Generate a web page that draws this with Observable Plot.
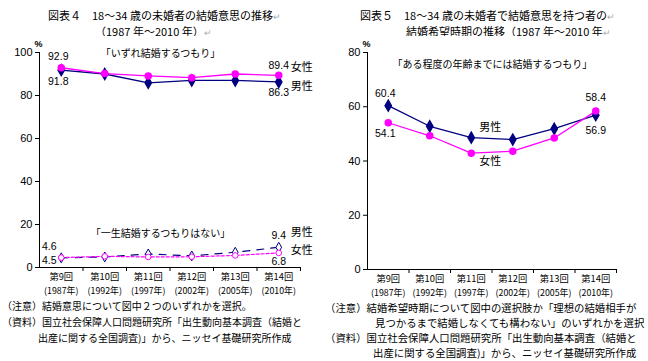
<!DOCTYPE html>
<html><head><meta charset="utf-8">
<script src="https://cdn.jsdelivr.net/npm/d3@7"></script>
<script src="https://cdn.jsdelivr.net/npm/@observablehq/plot@0.6"></script>
<style>
body{margin:0;background:#fff;width:648px;height:361px;position:relative;overflow:hidden;font-family:"Noto Sans CJK JP",sans-serif;color:#000}
.t{position:absolute;font-size:11px;white-space:nowrap;line-height:1}
.rt{color:#aaa;font-size:9px}
.n{position:absolute;white-space:nowrap;line-height:16px;font-size:10px}
#c1{position:absolute;left:0;top:36px}
#c2{position:absolute;left:330px;top:36px}
</style></head><body>
<div class="t" style="left:48px;top:10px">図表４　18～34 歳の未婚者の結婚意思の推移<span class="rt">↵</span></div>
<div class="t" style="left:95px;top:26px">（1987 年～2010 年）<span class="rt">↵</span></div>
<div class="t" style="left:360px;top:10px">図表５　18～34 歳の未婚者で結婚意思を持つ者の<span class="rt">↵</span></div>
<div class="t" style="left:406px;top:26px">結婚希望時期の推移（1987 年～2010 年<span class="rt">↵</span></div>
<div id="c1"></div>
<div id="c2"></div>
<div class="n" style="left:2px;top:298px">
<div>（注意）結婚意思について図中２つのいずれかを選択。</div>
<div>（資料）国立社会保障人口問題研究所「出生動向基本調査（結婚と</div>
<div style="padding-left:36px">出産に関する全国調査)」から、ニッセイ基礎研究所作成</div>
</div>
<div class="n" style="left:325px;top:300px;font-size:10.4px;line-height:15px">
<div>（注意）結婚希望時期について図中の選択肢か「理想の結婚相手が</div>
<div style="padding-left:50px">見つかるまで結婚しなくても構わない」のいずれかを選択</div>
<div>（資料）国立社会保障人口問題研究所「出生動向基本調査（結婚と</div>
<div style="padding-left:48px">出産に関する全国調査)」から、ニッセイ基礎研究所作成</div>
</div>
<script>
const rounds = ["第9回","第10回","第11回","第12回","第13回","第14回"];
const years = ["(1987年)","(1992年)","(1997年)","(2002年)","(2005年)","(2010年)"];
const willMale = [91.8, 90.0, 85.9, 87.0, 87.0, 86.3];
const willFemale = [92.9, 90.2, 89.1, 88.3, 90.0, 89.4];
const neverMale = [4.5, 4.9, 6.3, 5.4, 7.1, 9.4];
const neverFemale = [4.6, 5.2, 4.9, 5.0, 5.6, 6.8];
const ageMale = [60.4, 52.8, 48.6, 47.9, 51.9, 56.9];
const ageFemale = [54.1, 49.3, 42.9, 43.6, 48.5, 58.4];
const yTicksL = [0, 20, 40, 60, 80, 100];
const yTicksR = [0, 20, 40, 60, 80];
const xBounds = [0.5, 1.5, 2.5, 3.5, 4.5, 5.5];

const NAVY = "#000080", MAG = "#ff00ff";
const JP = "Noto Sans CJK JP";
const pts = arr => arr.map((v, i) => ({i, v}));

function frame(yMax, yTicks) {
  return [
    Plot.ruleX([-0.5], {y1: 0, y2: yMax, stroke: "#000"}),
    Plot.ruleY([0], {x1: -0.5, x2: 5.5, stroke: "#000"}),
    Plot.axisY({ticks: yTicks, tickSize: 4, tickPadding: 3, label: null, fontSize: 11}),
    Plot.axisX({ticks: xBounds, tickSize: 4, tickFormat: () => "", label: null}),
    Plot.text(rounds, {x: (d, i) => i, y: 0, dy: 10, fontFamily: JP, fontSize: 9.3}),
    Plot.text(years, {x: (d, i) => i, y: 0, dy: 23.3, fontFamily: JP, fontSize: 8.8}),
    Plot.text(["%"], {x: -0.5, y: yMax, dy: -8, dx: -1, fontSize: 9, fontWeight: "bold"})
  ];
}

const left = Plot.plot({
  width: 324, height: 262,
  marginTop: 16, marginBottom: 31, marginLeft: 39, marginRight: 24,
  x: {type: "linear", domain: [-0.5, 5.5]},
  y: {type: "linear", domain: [0, 100]},
  style: {fontFamily: "Liberation Sans, Arial, sans-serif", fontSize: "11px", background: "white", overflow: "visible"},
  marks: [
    ...frame(100, yTicksL),
    Plot.line(pts(willMale), {x: "i", y: "v", stroke: NAVY, strokeWidth: 1.3}),
    Plot.line(pts(willFemale), {x: "i", y: "v", stroke: MAG, strokeWidth: 1.3}),
    Plot.dot(pts(willMale), {x: "i", y: "v", symbol: "diamond", r: 3.3, fill: NAVY, stroke: NAVY}),
    Plot.dot(pts(willFemale), {x: "i", y: "v", symbol: "circle", r: 3, fill: MAG, stroke: MAG}),
    Plot.line(pts(neverMale), {x: "i", y: "v", stroke: NAVY, strokeWidth: 1.2, strokeDasharray: "7,7"}),
    Plot.line(pts(neverFemale), {x: "i", y: "v", stroke: MAG, strokeWidth: 1.2, strokeDasharray: "3,2"}),
    Plot.dot(pts(neverMale), {x: "i", y: "v", symbol: "diamond", r: 3, fill: "white", stroke: NAVY, strokeWidth: 1}),
    Plot.dot(pts(neverFemale), {x: "i", y: "v", symbol: "circle", r: 2.8, fill: "white", stroke: MAG, strokeWidth: 1}),
    Plot.text([willFemale[0]], {x: 0, y: d => d, text: d => d.toFixed(1), dy: -11, dx: -3, fontSize: 10.5}),
    Plot.text([willMale[0]], {x: 0, y: d => d, text: d => d.toFixed(1), dy: 11, dx: -3, fontSize: 10.5}),
    Plot.text([willFemale[5]], {x: 5, y: d => d, text: d => d.toFixed(1), dy: -10, fontSize: 10.5}),
    Plot.text([willMale[5]], {x: 5, y: d => d, text: d => d.toFixed(1), dy: 11, fontSize: 10.5}),
    Plot.text([neverFemale[0]], {x: 0, y: d => d, text: d => d.toFixed(1), dy: -11, dx: -12, fontSize: 10.5}),
    Plot.text([neverMale[0]], {x: 0, y: d => d, text: d => d.toFixed(1), dy: 3, dx: -12, fontSize: 10.5}),
    Plot.text([neverMale[5]], {x: 5, y: d => d, text: d => d.toFixed(1), dy: -12, fontSize: 10.5}),
    Plot.text([neverFemale[5]], {x: 5, y: d => d, text: d => d.toFixed(1), dy: 9, fontSize: 10.5}),
    Plot.text(["女性"], {x: 5, y: willFemale[5], dx: 23, dy: -8, fontFamily: JP, fontSize: 11}),
    Plot.text(["男性"], {x: 5, y: willMale[5], dx: 23, dy: 5, fontFamily: JP, fontSize: 11}),
    Plot.text(["男性"], {x: 5, y: neverMale[5], dx: 23, dy: -15, fontFamily: JP, fontSize: 11}),
    Plot.text(["女性"], {x: 5, y: neverFemale[5], dx: 23, dy: -2, fontFamily: JP, fontSize: 11}),
    Plot.text(["「いずれ結婚するつもり」"], {x: 2.28, y: 99.4, fontFamily: JP, fontSize: 10}),
    Plot.text(["「一生結婚するつもりはない」"], {x: 2.28, y: 15.8, fontFamily: JP, fontSize: 10})
  ]
});
document.getElementById("c1").append(left);

const right = Plot.plot({
  width: 318, height: 262,
  marginTop: 16, marginBottom: 29, marginLeft: 37, marginRight: 32,
  x: {type: "linear", domain: [-0.5, 5.5]},
  y: {type: "linear", domain: [0, 80]},
  style: {fontFamily: "Liberation Sans, Arial, sans-serif", fontSize: "11px", background: "white", overflow: "visible"},
  marks: [
    ...frame(80, yTicksR),
    Plot.line(pts(ageMale), {x: "i", y: "v", stroke: NAVY, strokeWidth: 1.3}),
    Plot.line(pts(ageFemale), {x: "i", y: "v", stroke: MAG, strokeWidth: 1.3}),
    Plot.dot(pts(ageMale), {x: "i", y: "v", symbol: "diamond", r: 3.3, fill: NAVY, stroke: NAVY}),
    Plot.dot(pts(ageFemale), {x: "i", y: "v", symbol: "circle", r: 3, fill: MAG, stroke: MAG}),
    Plot.text([ageMale[0]], {x: 0, y: d => d, text: d => d.toFixed(1), dy: -12, dx: -3, fontSize: 10.5}),
    Plot.text([ageFemale[0]], {x: 0, y: d => d, text: d => d.toFixed(1), dy: 11, dx: -3, fontSize: 10.5}),
    Plot.text([ageFemale[5]], {x: 5, y: d => d, text: d => d.toFixed(1), dy: -13, fontSize: 10.5}),
    Plot.text([ageMale[5]], {x: 5, y: d => d, text: d => d.toFixed(1), dy: 15, fontSize: 10.5}),
    Plot.text(["男性"], {x: 2.46, y: 52.5, fontFamily: JP, fontSize: 11}),
    Plot.text(["女性"], {x: 2.46, y: 39.9, fontFamily: JP, fontSize: 11}),
    Plot.text(["「ある程度の年齢までには結婚するつもり」"], {x: 2.51, y: 75.3, fontFamily: JP, fontSize: 10})
  ]
});
document.getElementById("c2").append(right);
</script>
</body></html>
